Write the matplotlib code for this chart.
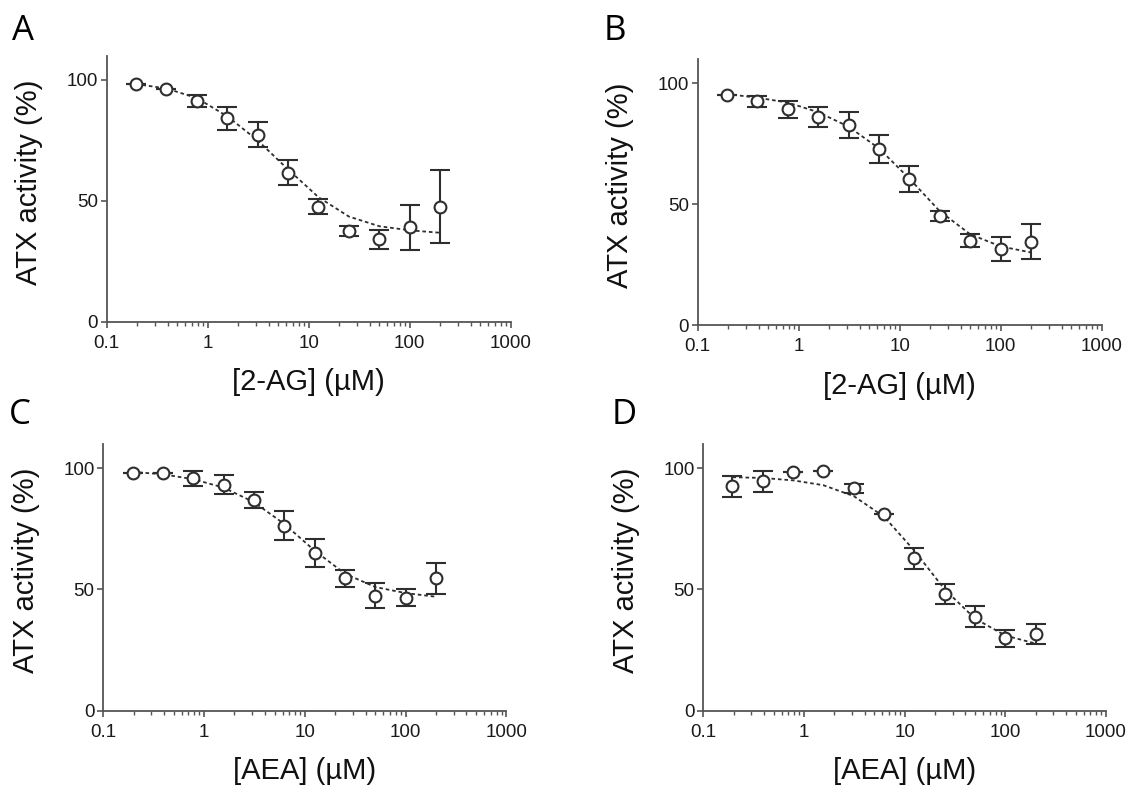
import numpy as np
import matplotlib
matplotlib.use("Agg")
import matplotlib.pyplot as plt
from matplotlib.ticker import LogLocator, FixedLocator, NullFormatter

plt.rcParams['font.family'] = ['Liberation Sans', 'DejaVu Sans']

# concentrations (µM)
conc = [0.195, 0.39, 0.78, 1.56, 3.125, 6.25, 12.5, 25, 50, 100, 200]

# Panel A: 2-AG
a_mean = [98.2, 96.1, 91.4, 84.1, 77.3, 61.6, 47.6, 37.6, 34.1, 39.0, 47.6]
a_err = [0, 0, 2.4, 4.7, 5.2, 5.2, 3.0, 2.0, 4.0, 9.4, 15.2]
a_fit = [98.3, 96.5, 92.5, 85.0, 75.0, 63.0, 51.5, 43.5, 39.5, 37.8, 36.8]

# Panel B: 2-AG
b_mean = [95.2, 92.5, 89.2, 86.1, 82.7, 72.8, 60.5, 45.1, 34.8, 31.3, 34.4]
b_err = [0, 2.3, 3.5, 4.1, 5.2, 5.8, 5.3, 2.2, 2.7, 4.9, 7.2]
b_fit = [95.5, 94.0, 92.0, 88.0, 82.0, 73.0, 60.5, 47.0, 37.5, 32.5, 30.0]

# Panel C: AEA
c_mean = [98.1, 98.2, 95.9, 93.2, 86.9, 76.3, 65.1, 54.6, 47.5, 46.5, 54.6]
c_err = [0, 0, 3.1, 3.9, 3.5, 6.1, 5.9, 3.5, 5.3, 3.5, 6.4]
c_fit = [98.5, 97.5, 95.5, 92.0, 86.0, 77.0, 66.0, 56.5, 51.0, 48.5, 47.0]

# Panel D: AEA
d_mean = [92.5, 94.6, 98.6, 98.8, 91.7, 81.3, 62.8, 48.2, 38.8, 29.8, 31.6]
d_err = [4.5, 4.4, 0, 0, 2.0, 0, 4.5, 4.2, 4.4, 3.4, 4.2]
d_fit = [96.3, 96.0, 95.0, 93.0, 88.5, 80.0, 66.0, 50.0, 38.0, 31.0, 27.7]

panel_letters = ["A", "B", "C", "D"]
xlabels = ["[2-AG] (µM)", "[2-AG] (µM)", "[AEA] (µM)", "[AEA] (µM)"]
ylabel = "ATX activity (%)"
xticks = [0.1, 1, 10, 100, 1000]
xticklabels = ["0.1", "1", "10", "100", "1000"]
yticks = [0, 50, 100]

W, H = 1132, 785
fig = plt.figure(figsize=(W / 100, H / 100), dpi=100)

# axes rectangles in pixels: left, right, bottom (y=0), top (y=110)
rects_px = [
    (106.7, 510.7, 321.7, 55.8),
    (697.7, 1101.7, 325.0, 59.0),
    (103.3, 506.5, 710.7, 444.0),
    (703.3, 1106.0, 710.7, 444.0),
]
letter_pos = [(12, 40), (604, 40), (9, 424), (612, 424)]

datasets = [
    (a_mean, a_err, a_fit),
    (b_mean, b_err, b_fit),
    (c_mean, c_err, c_fit),
    (d_mean, d_err, d_fit),
]

ink = "#2e2e2e"
axc = "#555555"
for i, ((l, r, b, t), (mean, err, fit)) in enumerate(zip(rects_px, datasets)):
    ax = fig.add_axes([l / W, 1 - b / H, (r - l) / W, (b - t) / H])
    ax.set_xscale("log")
    ax.set_xlim(0.1, 1000)
    ax.set_ylim(0, 110)
    ax.plot(conc, fit, linestyle=(0, (2.0, 1.6)), color=ink, lw=1.3, zorder=2)
    ax.errorbar(conc, mean, yerr=err, fmt="none", ecolor=ink, elinewidth=1.5,
                capsize=7.5, capthick=1.5, zorder=3)
    ax.plot(conc, mean, "o", ms=8.5, mfc="white", mec=ink, mew=1.5, zorder=4)

    for s in ["top", "right"]:
        ax.spines[s].set_visible(False)
    for s in ["left", "bottom"]:
        ax.spines[s].set_color(axc)
        ax.spines[s].set_linewidth(1.3)
    ax.xaxis.set_major_locator(FixedLocator(xticks))
    ax.set_xticklabels(xticklabels)
    ax.xaxis.set_minor_locator(LogLocator(base=10, subs=np.arange(2, 10), numticks=20))
    ax.xaxis.set_minor_formatter(NullFormatter())
    ax.set_yticks(yticks)
    ax.tick_params(axis="both", which="major", direction="out", length=4.5, width=1.2,
                   color=axc, labelsize=13.5, labelcolor="#1a1a1a")
    ax.tick_params(axis="x", which="major", pad=4.8)
    ax.tick_params(axis="y", which="major", pad=1.8)
    ax.tick_params(axis="x", which="minor", direction="out", length=3, width=1.0,
                   color=axc)
    ax.set_xlabel(xlabels[i], fontsize=21, labelpad=12, color="#111111")
    ax.set_ylabel(ylabel, fontsize=21, labelpad=17, color="#111111")
    ax.yaxis.label.set_y(0.525)
    ax.patch.set_alpha(0)

    lx, ly = letter_pos[i]
    fig.text(lx / W, 1 - ly / H, panel_letters[i], fontsize=25,
             family=["Open Sans", "DejaVu Sans"],
             ha="left", va="baseline", color="#000000")

fig.savefig("out.png", dpi=100)
